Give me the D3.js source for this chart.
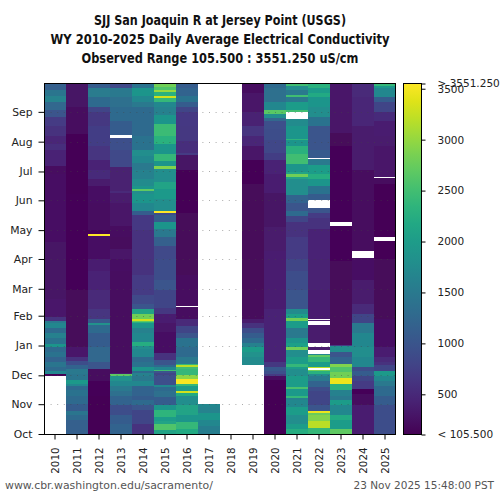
<!DOCTYPE html>
<html lang="en">
<head>
<meta charset="utf-8">
<title>SJJ Daily Average Electrical Conductivity</title>
<script src="https://cdn.jsdelivr.net/npm/d3@7"></script>
<style>
  body { margin: 0; background: #fff; }
  text { font-family: "DejaVu Sans", sans-serif; }
</style>
</head>
<body>
<div id="chart"></div>
<script>
// each run is [water year day where it starts, uS/cm]; null = no data
const wy2010 = [[0,null],[60,110],[62,1700],[65,1300],[70,1450],[75,1200],[80,1400],[85,1300],[90,1900],[94,1400],[100,1600],[105,1300],[110,1700],[115,1500],[118,600],[122,330],[140,280],[200,250],[270,230],[279,450],[295,560],[302,480],[310,580],[320,700],[330,1000],[337,1250],[345,1650],[352,1450],[358,1150]];
const wy2011 = [[0,1150],[15,1300],[20,1450],[24,1100],[31,1300],[40,1400],[46,1300],[50,1700],[52,1950],[56,1450],[62,1500],[68,1200],[72,900],[76,600],[80,330],[90,170],[150,150],[250,120],[312,210],[340,270]];
const wy2012 = [[0,110],[40,150],[55,210],[68,1000],[75,1250],[90,1100],[105,1300],[113,1850],[115,1050],[120,620],[130,500],[150,440],[170,390],[182,260],[206,3550],[208,150],[212,220],[240,250],[258,360],[265,520],[275,450],[285,620],[300,730],[320,650],[335,800],[340,1300],[350,1520],[360,1100]];
const wy2013 = [[0,1200],[10,1100],[20,900],[30,1200],[40,1350],[45,1500],[50,1700],[55,1850],[60,2700],[62,400],[63,200],[150,220],[170,250],[182,300],[192,190],[205,240],[216,290],[240,350],[251,500],[253,410],[278,850],[295,950],[308,null],[311,1100],[325,1300],[340,1350],[350,1500],[360,850]];
const wy2014 = [[0,600],[10,800],[25,1000],[30,1300],[35,1100],[40,1200],[50,1700],[55,1500],[60,1600],[63,1300],[65,1900],[70,1400],[75,1300],[80,1700],[88,1800],[92,2250],[96,1700],[105,1600],[110,1900],[115,2300],[116,2700],[117.5,3300],[120,2800],[125,2100],[130,1000],[135,850],[145,700],[165,600],[190,600],[212,680],[228,1100],[232,1700],[240,1900],[250,1800],[253,2700],[255,1900],[258,1750],[265,1600],[275,1500],[282,1700],[289,1800],[295,1400],[310,1300],[340,1500],[345,1700],[352,1900],[360,1400]];
const wy2015 = [[0,2100],[4,2600],[10,2100],[14,2000],[18,2350],[25,1900],[30,1100],[38,1350],[45,1300],[49,1700],[51,950],[61,800],[63,1000],[65,2500],[67,1700],[70,1300],[72,1000],[77,600],[84,250],[106,300],[115,400],[125,650],[131,800],[150,1000],[160,900],[182,850],[195,1150],[205,1500],[213,1900],[220,1100],[228,900],[229.5,3550],[231.5,1800],[244,1950],[255,2100],[262,1800],[276,2900],[279,1900],[284,2400],[291,1900],[302,2300],[310,2450],[322,1900],[332,1600],[340,1700],[345,2400],[349,3300],[351,2300],[356,3000],[358,2600],[361,2800]];
const wy2016 = [[0,2200],[5,2400],[12,1900],[20,2100],[30,1800],[40,2200],[43,3300],[45,2000],[50,2400],[52,3500],[57,2950],[61,2400],[68,2500],[70,3200],[71.5,2400],[73,1500],[80,1300],[90,1400],[100,1000],[105,800],[112,500],[120,230],[132,null],[133,230],[165,170],[230,140],[275,280],[290,700],[292,550],[305,650],[320,680],[335,800],[340,1100],[345,1400],[352,1200],[360,1100]];
const wy2017 = [[0,1550],[8,1700],[15,1900],[22,1650],[28,1700],[31,null]];
const wy2018 = [[0,null]];
const wy2019 = [[0,null],[72,1750],[80,1850],[85,2000],[90,1600],[95,1300],[100,1100],[105,900],[110,600],[115,350],[120,190],[150,160],[260,120],[285,300],[300,480],[310,620],[320,420],[335,290],[355,230]];
const wy2020 = [[0,110],[50,130],[56,220],[60,700],[62,950],[66,1050],[70,650],[75,450],[100,450],[130,400],[160,380],[190,340],[215,280],[251,380],[270,430],[285,720],[292,820],[306,900],[317,950],[325,1250],[329,1800],[333,2650],[337,1700],[345,1350],[360,1300]];
const wy2021 = [[0,2250],[5,2000],[10,1800],[20,2000],[28,1700],[35,1600],[37,2400],[40,1950],[47,2550],[49,2000],[60,1800],[68,2000],[70,2400],[73,2000],[80,1800],[87,2800],[90,2050],[95,1900],[100,1500],[110,2000],[118,2800],[121,2050],[125,1750],[130,1000],[150,900],[170,800],[182,700],[205,600],[220,800],[227,1300],[232,1000],[240,1200],[249,1800],[265,2100],[267,2800],[270,2100],[272,1900],[281,2500],[291,2300],[300,1900],[306,2350],[307,1900],[320,1750],[328,null],[334.5,2500],[337,2000],[345,1500],[350,2500],[353,1500],[358,1800],[362,2500]];
const wy2022 = [[0,2400],[6,3200],[13,2900],[20,2750],[22,3450],[24,1000],[30,800],[45,900],[49,1200],[55,1500],[60,1750],[62,2300],[65,2800],[67,null],[69,3200],[70,2000],[75,2400],[80,2700],[82,1700],[83,null],[87,350],[90,null],[95,350],[113,null],[117,350],[118.5,null],[119.5,380],[150,420],[182,450],[213,600],[225,700],[230,1000],[235,null],[243,1100],[250,1400],[258,1900],[265,2250],[270,2000],[280,1500],[286,null],[287,1100],[295,1000],[310,1000],[320,1400],[330,1800],[340,1900],[350,2200],[355,2000],[360,2300]];
const wy2023 = [[0,2700],[5,2000],[15,2200],[20,1700],[30,2000],[35,1500],[40,1600],[46,2300],[52,3450],[58,2800],[64,2600],[70,2900],[73,1200],[80,1000],[85,1800],[91,700],[93,170],[180,150],[216,null],[220,150],[300,160],[313,300],[340,320]];
const wy2024 = [[0,400],[30,200],[42,150],[47,700],[55,800],[60,1100],[65,900],[70,1700],[80,1800],[90,1700],[105,1500],[115,800],[125,500],[135,350],[160,250],[183,null],[190,200],[270,210],[275,350],[320,480],[350,500]];
const wy2025 = [[0,900],[30,1100],[40,1300],[50,1500],[55,1700],[60,1950],[66,800],[72,600],[75,500],[80,400],[90,250],[120,160],[182,130],[201,null],[205,130],[260,200],[266,null],[267,320],[300,350],[310,400],[325,520],[335,800],[345,1100],[350,1700],[360,1950],[362,2400]];

const years = ["2010","2011","2012","2013","2014","2015","2016","2017","2018","2019","2020","2021","2022","2023","2024","2025"];
const seasons = [wy2010,wy2011,wy2012,wy2013,wy2014,wy2015,wy2016,wy2017,wy2018,wy2019,wy2020,wy2021,wy2022,wy2023,wy2024,wy2025];
const monthNames = ["Oct","Nov","Dec","Jan","Feb","Mar","Apr","May","Jun","Jul","Aug","Sep"];
const monthDays = [0,31,61,92,123,151,182,212,243,273,304,335];
const colorTicks = [500,1000,1500,2000,2500,3000,3500];
const minValue = 105.5;
const maxValue = 3551.25;
const dayCount = 365;
const titles = [
  "SJJ San Joaquin R at Jersey Point (USGS)",
  "WY 2010-2025 Daily Average Electrical Conductivity",
  "Observed Range 105.500 : 3551.250 uS/cm"
];
const titleWidths = [252, 339, 277];

const w = 500, h = 500;
const plotLeft = 44, plotRight = 396, plotTop = 83, plotBottom = 434;
const barLeft = 403.5, barRight = 421.5;

const svg = d3.select("#chart").append("svg")
  .attr("width", w)
  .attr("height", h)
  .style("display", "block");

const defs = svg.append("defs");

// the source image is slightly soft along the day axis
defs.append("filter")
  .attr("id", "soft")
  .attr("x", 0).attr("y", 0).attr("width", 1).attr("height", 1)
  .append("feGaussianBlur")
  .attr("stdDeviation", "0 0.4");

const xScale = d3.scaleBand().domain(years).range([plotLeft, plotRight]);
const yScale = d3.scaleLinear().domain([0, dayCount]).range([plotBottom, plotTop]);
const color = d3.scaleSequential(d3.interpolateViridis).domain([minValue, maxValue]);

// one stack of rects per water year
const runs = [];
seasons.forEach((season, i) => {
  season.forEach((r, j) => {
    const end = j + 1 < season.length ? season[j + 1][0] : dayCount;
    if (r[1] !== null) runs.push({ year: years[i], start: r[0], end: end, value: r[1] });
  });
});

svg.append("g")
  .attr("class", "cells")
  .attr("filter", "url(#soft)")
  .selectAll("rect")
  .data(runs)
  .enter()
  .append("rect")
  .attr("x", d => xScale(d.year))
  .attr("y", d => yScale(d.end))
  .attr("width", xScale.bandwidth())
  .attr("height", d => yScale(d.start) - yScale(d.end))
  .attr("fill", d => color(d.value))
  .attr("shape-rendering", "crispEdges");

// dotted month grid over the cells
svg.append("g")
  .attr("class", "grid")
  .selectAll("line")
  .data(monthDays.slice(1))
  .enter()
  .append("line")
  .attr("x1", plotLeft)
  .attr("x2", plotRight)
  .attr("y1", d => Math.round(yScale(d)) + 0.5)
  .attr("y2", d => Math.round(yScale(d)) + 0.5)
  .attr("stroke", "#444")
  .attr("stroke-opacity", 0.45)
  .attr("stroke-dasharray", "1,5.6");

svg.append("rect")
  .attr("x", plotLeft + 0.5)
  .attr("y", plotTop + 0.5)
  .attr("width", plotRight - plotLeft - 1)
  .attr("height", plotBottom - plotTop)
  .attr("fill", "none")
  .attr("stroke", "#000");

const yAxis = d3.axisLeft(yScale)
  .tickValues(monthDays)
  .tickFormat((d, i) => monthNames[i])
  .tickSize(6)
  .tickPadding(6);

const yG = svg.append("g")
  .attr("transform", "translate(" + (plotLeft + 0.5) + ",0)")
  .call(yAxis);
yG.select(".domain").remove();
yG.selectAll("text").style("font-size", "10.8px").attr("fill", "#222");

const xAxis = d3.axisBottom(xScale).tickSize(5).tickPadding(5);

const xG = svg.append("g")
  .attr("transform", "translate(0," + (plotBottom + 0.5) + ")")
  .call(xAxis);
xG.select(".domain").remove();
xG.selectAll("text")
  .style("font-size", "10.3px")
  .attr("fill", "#222")
  .attr("text-anchor", "end")
  .attr("transform", "rotate(-90)")
  .attr("x", -13)
  .attr("y", 0)
  .attr("dy", "0.34em");

// colour bar
const grad = defs.append("linearGradient")
  .attr("id", "viridis")
  .attr("x1", 0).attr("x2", 0).attr("y1", 1).attr("y2", 0);
grad.selectAll("stop")
  .data(d3.range(0, 1.001, 0.05))
  .enter()
  .append("stop")
  .attr("offset", d => d)
  .attr("stop-color", d => d3.interpolateViridis(d));

svg.append("rect")
  .attr("x", barLeft)
  .attr("y", plotTop + 0.5)
  .attr("width", barRight - barLeft)
  .attr("height", plotBottom - plotTop)
  .attr("fill", "url(#viridis)")
  .attr("stroke", "#000");

const barScale = d3.scaleLinear().domain([minValue, maxValue]).range([plotBottom + 0.5, plotTop + 0.5]);
const barAxis = d3.axisRight(barScale)
  .tickValues([minValue].concat(colorTicks, [maxValue]))
  .tickFormat(d => d === minValue ? "< 105.500" : d === maxValue ? "> 3551.250" : d)
  .tickSize(4)
  .tickPadding(12);

const barG = svg.append("g")
  .attr("transform", "translate(" + barRight + ",0)")
  .call(barAxis);
barG.select(".domain").remove();
barG.selectAll("text").style("font-size", "10.5px").attr("fill", "#222");

svg.append("g")
  .selectAll("text")
  .data(titles)
  .enter()
  .append("text")
  .attr("x", 220)
  .attr("y", (d, i) => 25 + i * 19)
  .attr("text-anchor", "middle")
  .attr("textLength", (d, i) => titleWidths[i])
  .attr("lengthAdjust", "spacingAndGlyphs")
  .style("font-size", "14px")
  .style("font-weight", "bold")
  .attr("fill", "#111")
  .text(d => d);

svg.append("text")
  .attr("x", 5)
  .attr("y", 489)
  .style("font-size", "10.9px")
  .attr("fill", "#555")
  .text("www.cbr.washington.edu/sacramento/");

svg.append("text")
  .attr("x", 494)
  .attr("y", 489)
  .attr("text-anchor", "end")
  .style("font-size", "10.5px")
  .attr("fill", "#555")
  .text("23 Nov 2025 15:48:00 PST");
</script>
</body>
</html>
